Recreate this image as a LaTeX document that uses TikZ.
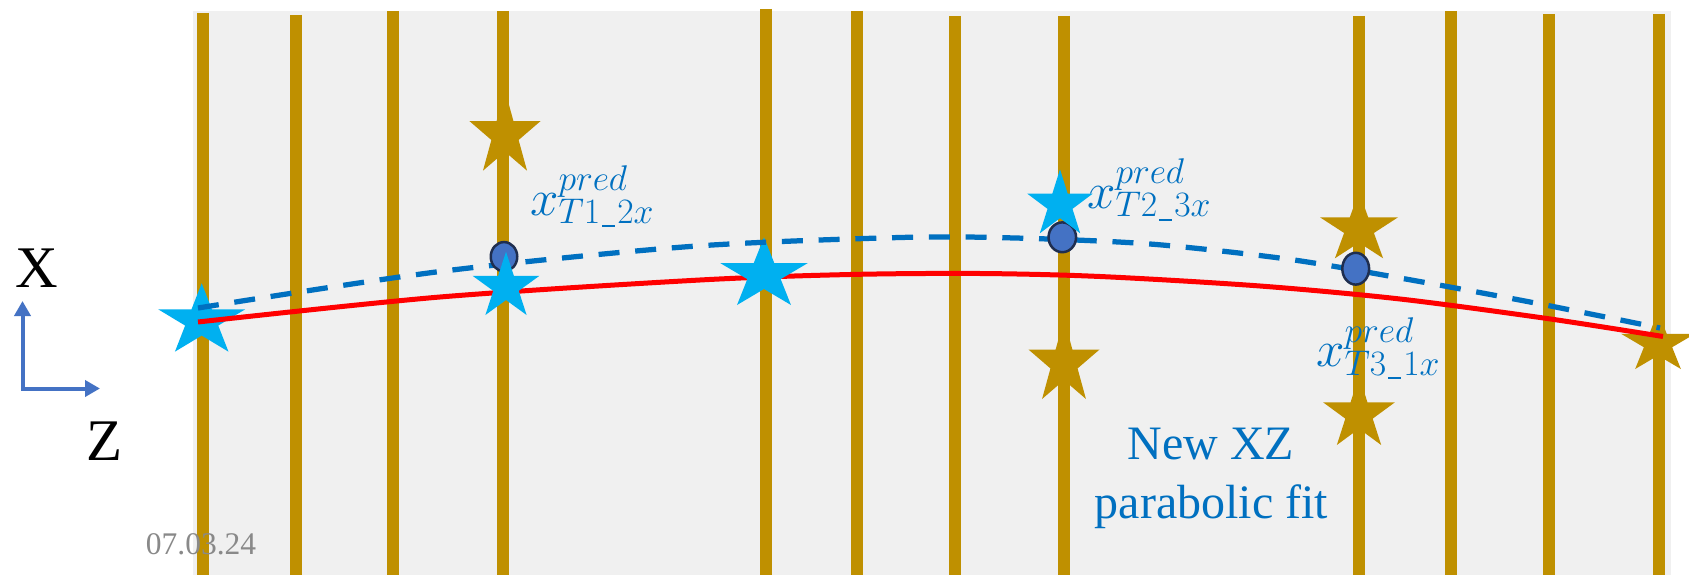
\RequirePackage{fix-cm}
\documentclass[tikz,border=0pt]{standalone}
\usepackage{fontspec}
\setmainfont{Liberation Serif}
\usetikzlibrary{arrows.meta,shapes.geometric}
\definecolor{bggray}{HTML}{F0F0F0}
\definecolor{gold}{HTML}{BF9000}
\definecolor{starblue}{HTML}{00B0F0}
\definecolor{curveblue}{HTML}{0070C0}
\definecolor{ellfill}{HTML}{4472C4}
\definecolor{elledge}{HTML}{1F2E4F}
\definecolor{axisblue}{HTML}{4472C4}
\definecolor{dategray}{HTML}{898989}
\tikzset{
  goldline/.style={draw=gold, line width=11.5pt},
  redfit/.style={draw=red, line width=5pt},
  predfit/.style={draw=curveblue, line width=5.25pt, dash pattern=on 21pt off 15.75pt},
  predpt/.style={ellipse, fill=ellfill, draw=elledge, line width=2.5pt, inner sep=0pt},
  axisarrow/.style={draw=axisblue, line width=4pt},
  lbl/.style={text=curveblue, inner sep=0pt, anchor=base west, font=\fontsize{51}{60}\selectfont},
  bigletter/.style={inner sep=0pt, anchor=base, font=\fontsize{59}{70}\selectfont},
  fittext/.style={text=curveblue, inner sep=0pt, anchor=base, font=\fontsize{48}{59}\selectfont},
}
% star: #1 colour, #2 centre x, #3 top y, #4 width, #5 height
\newcommand\pptstar[5]{%
  \pgfmathsetmacro\sxs{0.525731*#4}%
  \pgfmathsetmacro\sys{-0.552786*#5}%
  \pgfmathsetmacro\scy{#3+0.552786*#5}%
  \fill[#1,shift={(#2,\scy)},xscale=\sxs,yscale=\sys]
    (90:1) -- (126:0.381966) -- (162:1) -- (198:0.381966) -- (234:1) --
    (270:0.381966) -- (306:1) -- (342:0.381966) -- (18:1) -- (54:0.381966) -- cycle;}
\newcommand\usc{\mkern1mu\rule[-4pt]{13pt}{2.2pt}\mkern1mu}
\begin{document}
\begin{tikzpicture}[x=1pt,y=-1pt]
\useasboundingbox (0,0) rectangle (1689,575);
\fill[white] (0,0) rectangle (1689,575);
\fill[bggray] (193,11) rectangle (1671,575);
% vertical tracks
\foreach \xx/\tt in {203/13, 296/15, 393/11, 503/11, 766/9, 857/11, 955/16, 1064/16, 1359/16, 1451/11, 1549/14, 1659/14}
  \draw[goldline] (\xx,\tt) -- (\xx,575);
% gold stars
\pptstar{gold}{505}{90.3}{71.3}{80.4}
\pptstar{gold}{1064}{319}{71}{80}
\pptstar{gold}{1359}{192}{78}{66.3}
\pptstar{gold}{1359}{376}{71.7}{69}
\pptstar{gold}{1658}{312}{74}{57}
% first blue star (below the curves)
\pptstar{starblue}{201.7}{283.3}{86.7}{68.4}
% red fit
\draw[redfit] plot[smooth, tension=0.5] coordinates {(198,322) (440,297) (700,280) (850,274.5) (980,273.5) (1100,276.5) (1260,286) (1400,299) (1547,318.5) (1663,336.5)};
\pptstar{starblue}{764}{237.3}{87.3}{67.7}
% dashed new fit
\draw[predfit] plot[smooth, tension=0.5] coordinates {(198,308) (440,271.5) (690,246.5) (900,237.5) (1015,238) (1150,244) (1287,259) (1400,278) (1530,302) (1660,328)};
% predicted points
\node[predpt, minimum width=26.5pt, minimum height=29.2pt] (p1) at (504,256.7) {};
\node[predpt, minimum width=27.5pt, minimum height=29.8pt] (p2) at (1062.3,237.3) {};
\node[predpt, minimum width=26.8pt, minimum height=31.8pt] (p3) at (1355.7,268.7) {};
\pptstar{starblue}{506}{251.7}{66.7}{63.3}
\pptstar{starblue}{1060}{169.3}{65.3}{64}
% labels
\node[lbl] (lab1) at (530,215) {$x^{pred}_{T1\usc 2x}$};
\node[lbl] (lab2) at (1087,208.3) {$x^{pred}_{T2\usc 3x}$};
\node[lbl] (lab3) at (1316,366.7) {$x^{pred}_{T3\usc 1x}$};
% axes
\coordinate (o) at (22.5,388.5);
\coordinate (xt) at (22.5,301);
\coordinate (zt) at (100,388.5);
\draw[axisarrow, {Triangle[length=15pt,width=16pt]}-{Triangle[length=15pt,width=16pt]}] (xt) -- (o) -- (zt);
\node[bigletter] (xname) at (37,287) {X};
\node[bigletter] (zname) at (105,460.7) {Z};
% date
\node[text=dategray, inner sep=0pt, anchor=base, font=\fontsize{31.5}{38}\selectfont] (date) at (201,554) {07.03.24};
% caption
\node[fittext] (fit1) at (1211,459.3) {New XZ};
\node[fittext] (fit2) at (1211.5,518.3) {parabolic fit};
\end{tikzpicture}
\end{document}
